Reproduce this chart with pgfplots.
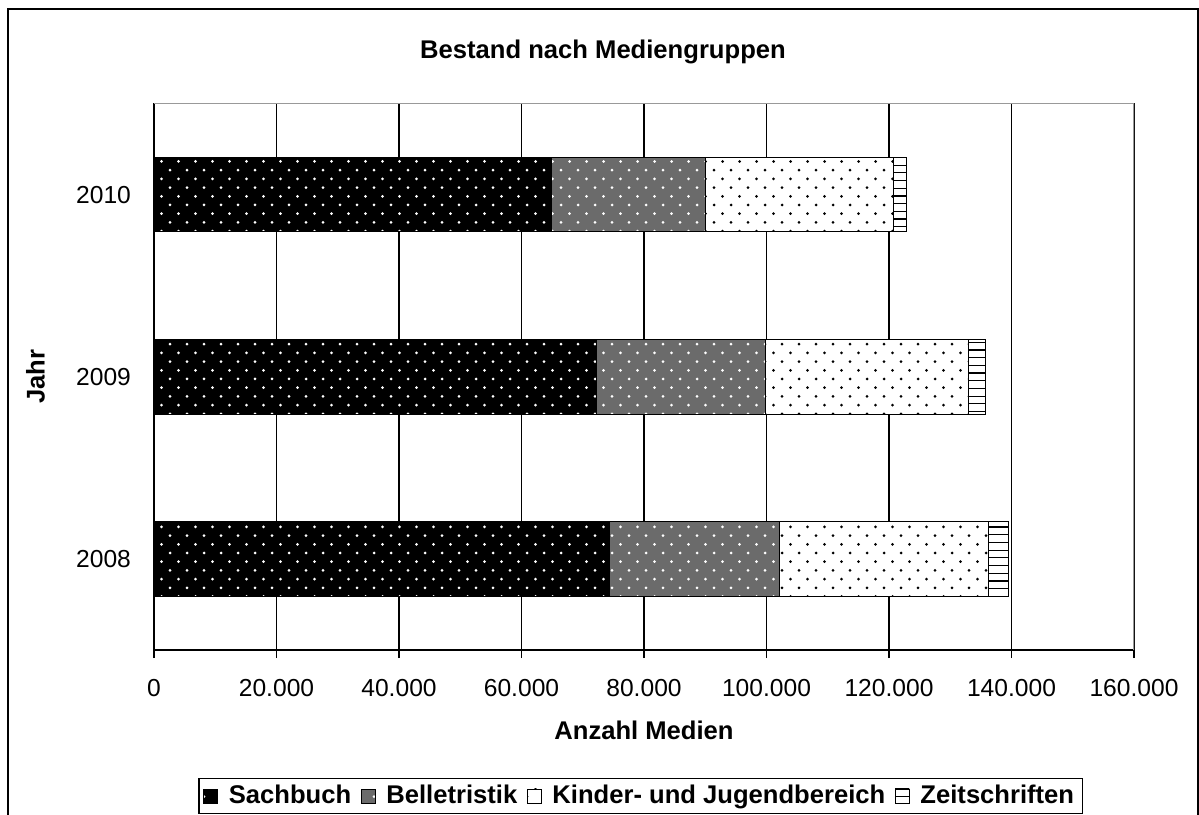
\documentclass[border=0pt]{standalone}
\usepackage{fontspec}
\setmainfont{Liberation Sans}
\usepackage{pgfplots}
\pgfplotsset{compat=1.18}
\usetikzlibrary{patterns}
\newcommand\fs{\fontsize{12.3}{14.5}\selectfont}
\newcommand\fb{\fontsize{12.8}{15}\selectfont\bfseries}
\pgfdeclarepatternformonly{sparsedots}{\pgfqpoint{-1pt}{-1pt}}{\pgfqpoint{9.5pt}{9.5pt}}{\pgfqpoint{8.5pt}{8.7pt}}{%
  \pgfpathcircle{\pgfqpoint{0pt}{0pt}}{0.75pt}%
  \pgfpathcircle{\pgfqpoint{4.25pt}{4.35pt}}{0.75pt}%
  \pgfusepath{fill}}
\pgfdeclarepatternformonly{hlines}{\pgfqpoint{-1pt}{-1pt}}{\pgfqpoint{5pt}{5pt}}{\pgfqpoint{3.85pt}{3.85pt}}{%
  \pgfsetlinewidth{0.6pt}%
  \pgfpathmoveto{\pgfqpoint{-1pt}{1pt}}\pgfpathlineto{\pgfqpoint{5pt}{1pt}}%
  \pgfusepath{stroke}}
\begin{document}
\begin{tikzpicture}[font=\fs]
\useasboundingbox (0,0) rectangle (599.5pt,407pt);
% outer chart frame
\draw[line width=1pt] (4pt,-5pt) -- (4pt,402.5pt) -- (598.75pt,402.5pt) -- (598.75pt,-5pt);
% title
\node[font=\fb] at (301.5pt,381pt) {Bestand nach Mediengruppen};
\begin{axis}[
  at={(77pt,82pt)}, anchor=south west,
  scale only axis, width=490pt, height=273.25pt,
  xbar stacked, bar width=0.41,
  xmin=0, xmax=160000, ymin=-0.5, ymax=2.5,
  axis lines=left, axis line style={-, black, line width=0.75pt},
  scaled x ticks=false,
  xtick={0,20000,40000,60000,80000,100000,120000,140000,160000},
  xticklabels={0,20.000,40.000,60.000,80.000,100.000,120.000,140.000,160.000},
  ytick={0,1,2}, yticklabels={2008,2009,2010},
  minor ytick={-0.5,0.5,1.5,2.5},
  /pgf/number format/assume math mode=true,
  tick align=outside,
  major tick length=4pt, minor tick length=4pt,
  ytick style={draw=none},
  minor tick style={black, line width=0.7pt},
  xtick style={black, line width=0.7pt},
  xmajorgrids, major grid style={black, line width=0.65pt},
  ticklabel style={font=\fs},
  xticklabel style={yshift=-7pt},
  yticklabel style={xshift=-4pt},
  xlabel={Anzahl Medien}, ylabel={Jahr},
  xlabel style={font=\fb, at={(axis description cs:0.5,-0.1464)}, anchor=center},
  ylabel style={font=\fb, at={(axis description cs:-0.121,0.5)}, anchor=center},
  legend columns=-1,
  legend style={at={(axis description cs:0.4965,-0.267)}, anchor=center, draw=black, line width=0.6pt,
    font=\fb, inner xsep=2pt, inner ysep=1.5pt,
    /tikz/every odd column/.append style={column sep=3.5pt},
    /tikz/every even column/.append style={column sep=2.7pt}},
  legend image code/.code={\draw[#1, line width=0.4pt] (0pt,-3.5pt) rectangle (7pt,3.5pt);},
]
\addplot[draw=black, line width=0.5pt, fill=black, postaction={pattern=sparsedots, pattern color=white}]
  coordinates {(74300,0) (72200,1) (64900,2)};
\addlegendentry{Sachbuch}
\addplot[draw=black, line width=0.5pt, fill=black!58, postaction={pattern=sparsedots, pattern color=white}]
  coordinates {(27900,0) (27600,1) (25100,2)};
\addlegendentry{Belletristik}
\addplot[draw=black, line width=0.5pt, fill=white, postaction={pattern=sparsedots, pattern color=black}]
  coordinates {(34100,0) (33100,1) (30800,2)};
\addlegendentry{Kinder- und Jugendbereich}
\addplot[draw=black, line width=0.5pt, fill=white, postaction={pattern=hlines, pattern color=black}]
  coordinates {(3200,0) (2900,1) (2000,2)};
\addlegendentry{Zeitschriften}
\draw[gray!80, line width=0.75pt] (rel axis cs:0,1) -- (rel axis cs:1,1) -- (rel axis cs:1,0);
\end{axis}
\end{tikzpicture}
\end{document}
